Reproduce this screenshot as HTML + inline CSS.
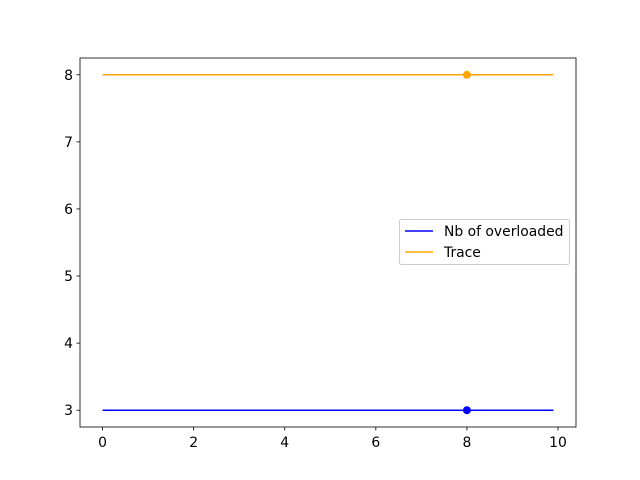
<!DOCTYPE html>
<html><head><meta charset="utf-8"><style>
html,body{margin:0;padding:0;background:#fff;}
svg{display:block;font-family:"DejaVu Sans","Liberation Sans",sans-serif;}
</style></head><body>
<svg id="chart" width="640" height="480">
<rect x="0" y="0" width="640" height="480" fill="#fff"/>
<g id="plot"></g>
</svg>
<script>
const seriesNames = ["Nb of overloaded", "Trace"];
const seriesValues = [3, 8];
const seriesColors = ["blue", "orange"];
const xStart = 0, xEnd = 9.9;
const markerX = 8;
const xTicks = [0, 2, 4, 6, 8, 10];
const yTicks = [3, 4, 5, 6, 7, 8];

const L = 80, R = 576, T = 58, B = 427;
const xmin = -0.495, xmax = 10.395, ymin = 2.75, ymax = 8.25;
const sx = v => L + (v - xmin) / (xmax - xmin) * (R - L);
const sy = v => B - (v - ymin) / (ymax - ymin) * (B - T);
const NS = "http://www.w3.org/2000/svg";
const g = document.getElementById("plot");
function mk(tag, attrs) { const e = document.createElementNS(NS, tag); for (const k in attrs) e.setAttribute(k, attrs[k]); g.appendChild(e); return e; }

seriesValues.forEach((v, i) => {
  const ln = mk("line", {x1: sx(xStart), x2: sx(xEnd), y1: sy(v), y2: sy(v), stroke: seriesColors[i], "stroke-width": 1.5});
  
  
  const c = mk("circle", {cx: sx(markerX), cy: sy(v), r: 4, fill: seriesColors[i]});
  
  
});

const frame = mk("rect", {x: L, y: T, width: R - L, height: B - T, fill: "none", stroke: "#000", "stroke-width": 0.8});



xTicks.forEach(t => {
  const x = sx(t);
  mk("line", {x1: x, x2: x, y1: B, y2: B + 3.5, stroke: "#000", "stroke-width": 0.8});
  const tx = mk("text", {x: x, y: B + 20, "text-anchor": "middle", "font-size": 13.9});
  tx.textContent = t;
  
  
});
yTicks.forEach(t => {
  const y = sy(t);
  mk("line", {x1: L - 3.5, x2: L, y1: y, y2: y, stroke: "#000", "stroke-width": 0.8});
  const tx = mk("text", {x: L - 7, y: y + 5, "text-anchor": "end", "font-size": 13.9});
  tx.textContent = t;
  
  
});

const lg = mk("rect", {x: 399.5, y: 219.5, width: 170, height: 45, rx: 2, fill: "#fff", stroke: "#ccc", "stroke-width": 1});


seriesNames.forEach((n, i) => {
  const y = 231 + i * 21;
  const l = mk("line", {x1: 405, x2: 433, y1: y, y2: y, stroke: seriesColors[i], "stroke-width": 1.5});
  
  
  const t = mk("text", {x: 444, y: y + 5, "font-size": 13.9});
  t.textContent = n;
  
  
});
</script>
</body></html>
